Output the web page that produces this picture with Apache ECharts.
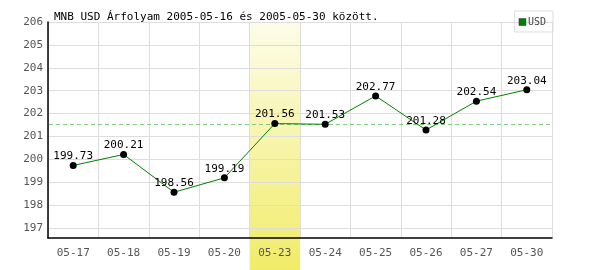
<!DOCTYPE html>
<html><head><meta charset="utf-8">
<script src="https://cdn.jsdelivr.net/npm/echarts@6/dist/echarts.min.js"></script>
<style>html,body{margin:0;padding:0;background:#fff}#c{width:600px;height:270px}</style>
</head><body><div id="c"></div>
<script>
var categories = ['05-17','05-18','05-19','05-20','05-23','05-24','05-25','05-26','05-27','05-30'];
var usdValues = [199.73,200.21,198.56,199.19,201.56,201.53,202.77,201.28,202.54,203.04];
var yTicks = [197,198,199,200,201,202,203,204,205,206];
var highlightCategory = '05-23';
var titleText = 'MNB USD Árfolyam 2005-05-16 és 2005-05-30 között.';
var seriesName = 'USD';
var yMin = 196.56, yMax = 206;

var font = 'DejaVu Sans Mono';
var hiIdx = categories.indexOf(highlightCategory);
var chart = echarts.init(document.getElementById('c'), null, {renderer:'canvas'});
var option = {
  animation: false,
  backgroundColor: '#fff',
  title: {text: titleText, left: 49, top: 7, textStyle: {fontFamily: font, fontSize: 11, fontWeight: 'normal', color: '#000'}},
  legend: {
    data: [{name: seriesName, itemStyle: {color: '#008000', borderColor: '#333', borderWidth: 0.5}}],
    right: 47, top: 11, orient: 'vertical',
    borderColor: '#ddd', borderWidth: 1, padding: [6, 7, 5, 4],
    itemWidth: 7, itemHeight: 7, itemGap: 2, icon: 'rect',
    textStyle: {fontFamily: font, fontSize: 10, color: '#444', padding: [0,0,0,-3]}
  },
  grid: {left: 48, right: 48, top: 22, bottom: 32},
  xAxis: {
    type: 'category', data: categories, boundaryGap: true,
    axisLine: {lineStyle: {color: '#000', width: 1.5}},
    axisTick: {show: false},
    axisLabel: {fontFamily: font, fontSize: 11, color: '#555', margin: 10},
    splitLine: {show: true, lineStyle: {color: '#ddd', width: 1}}
  },
  yAxis: {
    type: 'value', min: yMin, max: yMax,
    axisLine: {show: true, lineStyle: {color: '#000', width: 1.5}},
    axisTick: {show: false, customValues: yTicks},
    axisLabel: {fontFamily: font, fontSize: 11, color: '#555', margin: 5, customValues: yTicks},
    splitLine: {show: true, lineStyle: {color: '#ddd', width: 1}}
  },
  series: [{
    name: seriesName, type: 'line', data: usdValues, z: 3,
    itemStyle: {color: '#000'},
    lineStyle: {color: '#008000', width: 1},
    symbol: 'circle', symbolSize: 7,
    label: {show: true, position: 'top', distance: 0, fontFamily: font, fontSize: 11, color: '#000'}
  }]
};
chart.setOption(option);

var c0 = chart.convertToPixel({xAxisIndex: 0}, categories[hiIdx]);
var halfW = (chart.convertToPixel({xAxisIndex:0}, categories[1]) - chart.convertToPixel({xAxisIndex:0}, categories[0])) / 2;
var topY = chart.convertToPixel({yAxisIndex: 0}, yMax);
var refY = Math.round(chart.convertToPixel({yAxisIndex: 0}, usdValues[hiIdx])) + 0.5;
var x0 = chart.convertToPixel({xAxisIndex: 0}, categories[0]) - halfW;
var x1 = chart.convertToPixel({xAxisIndex: 0}, categories[categories.length - 1]) + halfW;
chart.setOption({graphic: [{
  type: 'rect', z: -1, silent: true,
  shape: {x: c0 - halfW, y: topY, width: halfW * 2, height: 270 - topY},
  style: {fill: new echarts.graphic.LinearGradient(0, 0, 0, 1, [
    {offset: 0, color: '#fdfce9'}, {offset: 1, color: '#f1ec68'}])}
}, {
  type: 'line', z: 1, silent: true,
  shape: {x1: x0 + 1, y1: refY, x2: x1, y2: refY},
  style: {stroke: '#7fcc7f', lineWidth: 1, lineDash: [4, 3]}
}]});
</script></body></html>
